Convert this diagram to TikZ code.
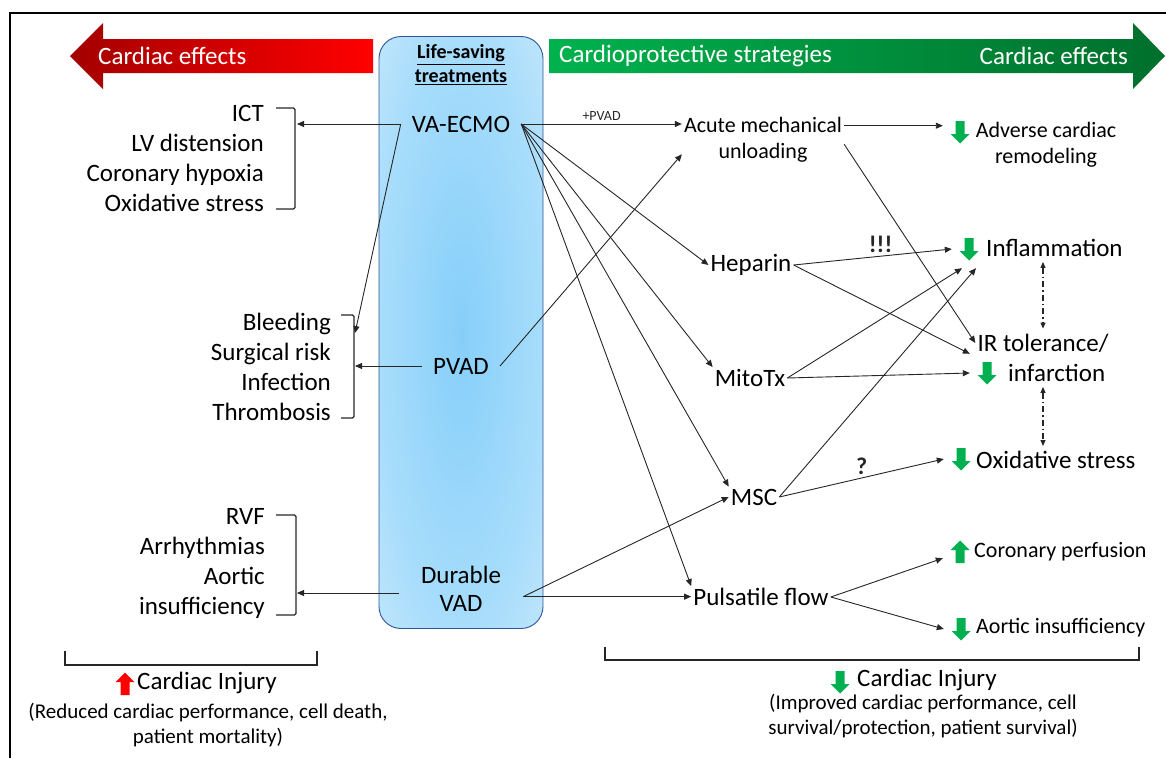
\documentclass[tikz,border=0pt]{standalone}
\usepackage{fontspec}
\setmainfont{Carlito}
\usepackage{tikz}
\usetikzlibrary{calc,arrows.meta,positioning}

\definecolor{redL}{HTML}{A30000}
\definecolor{redR}{HTML}{FF0000}
\definecolor{grnL}{HTML}{00B24E}
\definecolor{grnR}{HTML}{006F2C}
\definecolor{icongrn}{HTML}{00B050}
\definecolor{iconred}{HTML}{FF0000}
\definecolor{boxin}{HTML}{86CFFA}
\definecolor{boxmid}{HTML}{A8DDFB}
\definecolor{boxout}{HTML}{DDF1FD}
\definecolor{boxline}{HTML}{2F5597}

\pgfdeclareradialshading{lsbox}{\pgfpoint{0bp}{0bp}}{color(0bp)=(boxin); color(25bp)=(boxmid); color(50bp)=(boxout); color(80bp)=(boxout)}

\newcommand{\fbig}{\fontsize{25}{30}\selectfont}
\newcommand{\fmed}{\fontsize{22}{26}\selectfont}
\newcommand{\fhdr}{\fontsize{25}{28}\selectfont}
\newcommand{\fnote}{\fontsize{21}{25}\selectfont}
\newcommand{\fttl}{\fontsize{20}{24}\selectfont\bfseries}
\newcommand{\fbang}{\fontsize{24}{28}\selectfont\bfseries}
\newcommand{\ftiny}{\fontsize{14}{16}\selectfont}

% block arrows used as up/down markers
\newcommand{\icondown}[2]{\fill[#2] ([shift={(-4.5pt,11pt)}]#1.center) -- ([shift={(4.5pt,11pt)}]#1.center) -- ([shift={(4.5pt,-2pt)}]#1.center) -- ([shift={(9.5pt,-2pt)}]#1.center) -- ([shift={(0pt,-11.5pt)}]#1.center) -- ([shift={(-9.5pt,-2pt)}]#1.center) -- ([shift={(-4.5pt,-2pt)}]#1.center) -- cycle;}
\newcommand{\iconup}[2]{\fill[#2] ([shift={(-4.5pt,-11pt)}]#1.center) -- ([shift={(4.5pt,-11pt)}]#1.center) -- ([shift={(4.5pt,2pt)}]#1.center) -- ([shift={(9.5pt,2pt)}]#1.center) -- ([shift={(0pt,11.5pt)}]#1.center) -- ([shift={(-9.5pt,2pt)}]#1.center) -- ([shift={(-4.5pt,2pt)}]#1.center) -- cycle;}

\begin{document}
\begin{tikzpicture}[x=1pt,y=-1pt]
  \tikzset{
    lbl/.style={font=\fbig, inner sep=2pt, text=black},
    lbll/.style={lbl, align=right, anchor=east},
    eff/.style={lbl, anchor=west},
    treat/.style={lbl, inner xsep=11pt, inner ysep=3pt},
    hdr/.style={font=\fhdr, text=white, inner sep=0pt},
    conn/.style={-{Triangle[length=7pt,width=6pt]}, black!85, line width=0.9pt},
    brk/.style={black!85, line width=1.1pt, rounded corners=1.5pt},
    base/.style={black!85, line width=1.8pt},
    dd/.style={{Triangle[length=6pt,width=5pt]}-{Triangle[length=6pt,width=5pt]}, black!85, line width=1.1pt, dash pattern=on 6pt off 3pt on 1.5pt off 3pt, shorten <=3pt, shorten >=3pt},
    icn/.style={minimum width=34pt, minimum height=38pt, inner sep=0pt},
    lifebox/.style={draw=boxline, line width=0.9pt, rounded corners=22pt, shade, shading=lsbox, minimum width=164pt, minimum height=592pt}
  }
  \useasboundingbox (0,0) rectangle (1166,758);

  % Frame
  \draw[line width=2pt] (1166,13) -- (10,13) -- (10,758);

  % Header arrows
  \shade[left color=redL, right color=redR] (373,39) -- (103,39) -- (103,23) -- (70,56) -- (103,89) -- (103,73) -- (373,73) -- cycle;
  \shade[left color=grnL, right color=grnR] (549,39) -- (1133,39) -- (1133,23) -- (1165,56) -- (1133,89) -- (1133,73) -- (549,73) -- cycle;
  \node[hdr, anchor=west] (hdrl) at (98,56) {Cardiac effects};
  \node[hdr, anchor=west] (hdrm) at (559,56) {Cardioprotective strategies};
  \node[hdr, anchor=east] (hdrr) at (1128,56) {Cardiac effects};

  % Treatments column
  \node[lifebox] (lsbox) at (461,332.5) {};
  \node[font=\fttl, align=center] (lstitle) at (461,65) {\underline{Life-saving}\\\underline{treatments}};
  \node[treat] (vaecmo) at (461,124) {VA-ECMO};
  \node[treat] (pvad) at (461,366) {PVAD};
  \node[treat, align=center, inner xsep=22pt, font=\fontsize{25}{28}\selectfont] (dvad) at (461,589) {Durable\\VAD};

  % Adverse effects (left)
  \node[lbll] (lfecmo) at (266,158) {ICT\\LV distension\\Coronary hypoxia\\Oxidative stress};
  \node[lbll] (lfpvad) at (333,367) {Bleeding\\Surgical risk\\Infection\\Thrombosis};
  \node[lbll] (lfdvad) at (267,563) {RVF\\Arrhythmias\\Aortic\\insufficiency};
  \draw[brk] (276,108) -- (295,108) -- (295,209) -- (276,209);
  \draw[brk] (341,315) -- (354,315) -- (354,418) -- (341,418);
  \draw[brk] (276,515) -- (296,515) -- (296,615) -- (276,615);
  \coordinate (bkecmo) at (297,124);
  \coordinate (bkecmo2) at (355,333);
  \coordinate (bkpvad) at (355,366);
  \coordinate (bkdvad) at (297,593);

  % Strategies and effects (right)
  \node[lbl, font=\fmed, align=center] (acute) at (763,140) {Acute mechanical\\unloading};
  \node[icn] (icadv) at (960,132) {}; \icondown{icadv}{icongrn}
  \node[lbl, font=\fmed, align=center] (adverse) at (1046,145) {Adverse cardiac\\remodeling};
  \node[lbl] (heparin) at (751,265) {Heparin};
  \node[icn] (icinfl) at (969,249) {}; \icondown{icinfl}{icongrn}
  \node[eff] (inflam) at (984,248) {Inflammation};
  \node[lbl] (irtol) at (1043,343) {IR tolerance/};
  \node[icn] (icinf) at (987,373) {}; \icondown{icinf}{icongrn}
  \node[eff] (infarct) at (1006,373) {infarction};
  \node[lbl] (mitotx) at (750,378) {MitoTx};
  \node[lbl] (msc) at (754,497) {MSC};
  \node[icn] (icox) at (961,459) {}; \icondown{icox}{icongrn}
  \node[eff] (oxid) at (974,460) {Oxidative stress};
  \node[lbl] (pulse) at (761,597) {Pulsatile flow};
  \node[icn] (iccor) at (960,552) {}; \iconup{iccor}{icongrn}
  \node[eff, font=\fmed] (coron) at (972,552) {Coronary perfusion};
  \node[icn] (icaor) at (961,629) {}; \icondown{icaor}{icongrn}
  \node[eff, font=\fmed] (aortic) at (974,628) {Aortic insufficiency};

  % Left side connectors
  \draw[conn] (vaecmo.west) -- (bkecmo);
  \draw[conn] (vaecmo.west) -- (bkecmo2);
  \draw[conn] (pvad.west) -- (bkpvad);
  \draw[conn] (dvad.west |- bkdvad) -- (bkdvad);

  % VA-ECMO fan
  \draw[conn] (vaecmo.east) -- node[above, font=\ftiny] {+PVAD} (vaecmo.east -| acute.west);
  \foreach \tgt in {heparin.west, mitotx.north west, msc.north west, pulse.north west}
    \draw[conn] (vaecmo.east) -- (\tgt);
  \draw[conn] (pvad.east) -- (acute.190);
  \draw[conn] (dvad.-7) -- (msc.west);
  \draw[conn] (dvad.-7) -- (dvad.-7 -| pulse.west);

  % Strategies to effects
  \draw[conn] (acute.10) -- (acute.10 -| icadv.west);
  \draw[conn] (acute.-3) -- (irtol.west);
  \draw[conn] (heparin.east) -- node[above, font=\fbang, pos=0.55] {!!!} (icinfl.west);
  \draw[conn] (heparin.east) -- (icinf.north west);
  \draw[conn] (mitotx.east) -- (icinfl.-110);
  \draw[conn] (mitotx.east) -- (icinf.west);
  \draw[conn] (msc.east) -- (icinfl.-70);
  \draw[conn] (msc.east) -- node[above, font=\fbang] {?} (icox.west);
  \draw[conn] (pulse.east) -- (iccor.200);
  \draw[conn] (pulse.east) -- (icaor.west);
  \draw[dd] (irtol.north |- inflam.south) -- (irtol.north);
  \draw[dd] (irtol.south |- infarct.south) -- (irtol.south |- oxid.north);

  % Overall outcome
  \draw[base] (65,651) -- (65,665) -- (317,665) -- (317,651);
  \node[icn] (icinjl) at (125,684) {}; \iconup{icinjl}{iconred}
  \node[eff] (injl) at (135,683) {Cardiac Injury};
  \node[lbl, font=\fnote, align=center] (injltxt) at (208,725) {(Reduced cardiac performance, cell death,\\patient mortality)};
  \draw[base] (605,647) -- (605,660) -- (1139,660) -- (1139,647);
  \node[icn] (icinjr) at (840,682) {}; \icondown{icinjr}{icongrn}
  \node[eff] (injr) at (855,680) {Cardiac Injury};
  \node[lbl, font=\fnote, align=center] (injrtxt) at (923,716) {(Improved cardiac performance, cell\\survival/protection, patient survival)};
\end{tikzpicture}
\end{document}
